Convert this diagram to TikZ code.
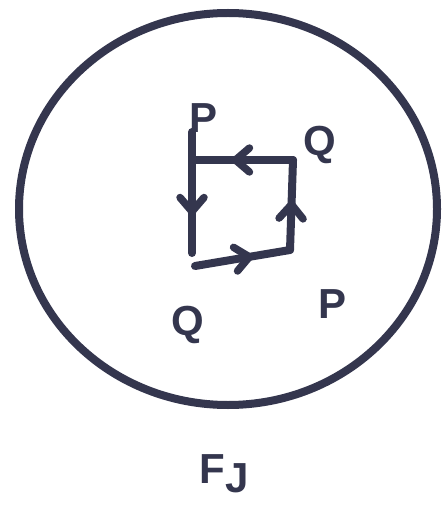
\documentclass[tikz,border=0pt]{standalone}
\usepackage{fontspec}
\setmainfont{Liberation Sans}
\usetikzlibrary{decorations.markings,shapes.geometric}
\definecolor{ink}{RGB}{52,54,78}
\tikzset{
  stroke/.style={draw=ink,line width=8pt,line cap=round,line join=round},
  midarrow/.style={postaction={decorate},decoration={markings,mark=at position #1 with {\draw[ink,line width=7.5pt,line cap=round,line join=round] (-9pt,-12pt) -- (5pt,0pt) -- (-9pt,12pt);}}},
  lbl/.style={text=ink,font=\fontsize{42}{42}\selectfont\bfseries,inner sep=0pt}
}
\begin{document}
\begin{tikzpicture}[x=1pt,y=-1pt]
\fill[white] (0,0) rectangle (445,526);
\useasboundingbox (0,0) rectangle (445,526);
\node[stroke, ellipse, minimum width=418pt, minimum height=392pt, inner sep=0pt] (disk) at (228,209) {};
\coordinate (pin) at (192,132);
\coordinate (tl) at (192,160);
\coordinate (tr) at (293,160);
\coordinate (br) at (290,250);
\coordinate (bl) at (192,253);
\coordinate (bs) at (195,266);
\draw[stroke] (pin) -- (tl);
\draw[stroke, midarrow=0.52] (tr) -- (tl);
\draw[stroke, midarrow=0.5] (tl) -- (bl);
\draw[stroke, midarrow=0.52] (bs) -- (br);
\draw[stroke, midarrow=0.45] (br) -- (tr);
\node[lbl] (p1) at (204,118) {P};
\node[lbl] (q1) at (320,145) {Q};
\node[lbl] (q2) at (188,325) {Q};
\node[lbl] (p2) at (333,304) {P};
\node[lbl] (fj) at (224,474) {F\raisebox{-9pt}{J}};
\end{tikzpicture}
\end{document}
